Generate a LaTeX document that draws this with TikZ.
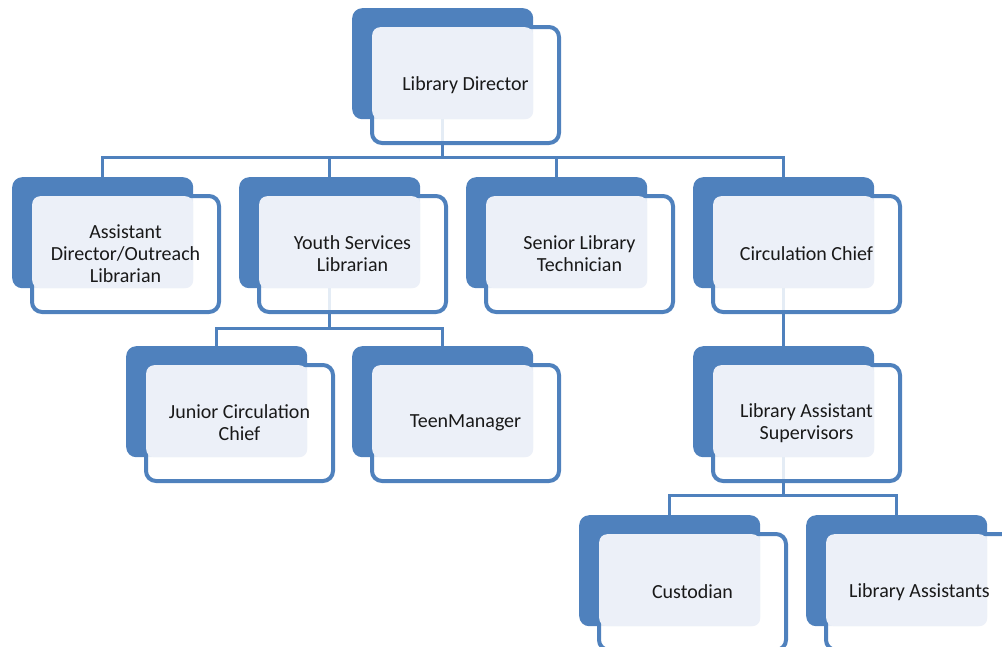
\documentclass[tikz,border=0pt]{standalone}
\usepackage{fontspec}
\setmainfont{Carlito}
\usepackage{xcolor}
\usepackage{tikz}
\usetikzlibrary{positioning,backgrounds}

\definecolor{orgblue}{HTML}{4F81BD}
\definecolor{orglight}{HTML}{ECF0F8}

\begin{document}
\begin{tikzpicture}[x=1pt, y=-1pt,
    back/.style={rectangle, fill=orgblue, rounded corners=10pt,
                 minimum width=181pt, minimum height=111pt,
                 anchor=north west, inner sep=0pt},
    frame/.style={rectangle, draw=orgblue, line width=4pt, fill=white, fill opacity=0.85,
                  rounded corners=10pt, minimum width=187pt, minimum height=116pt,
                  anchor=north west, inner sep=0pt},
    inbox/.style={rectangle, fill=orglight, rounded corners=8pt,
                  minimum width=161pt, minimum height=92pt,
                  anchor=south east, inner sep=0pt},
    lbl/.style={align=center, font=\fontsize{20}{22}\selectfont, text=black!90},
    conn/.style={draw=orgblue, line width=3.5pt}
  ]

  \useasboundingbox (0,0) rectangle (1002,646);
  \clip (0,0) rectangle (1002,646);

  % Top level
  \node[back] (dir) at (352,8) {};
  \node[frame] (dir-f) at (370,25) {};
  \node[inbox] (dir-i) at (dir.south east) {};
  \node[lbl] (dir-t) at (dir-f) {Library Director};

  % Second level
  \node[back] (asst) at (12,177) {};
  \node[frame] (asst-f) at (30,194) {};
  \node[inbox] (asst-i) at (asst.south east) {};
  \node[lbl] (asst-t) at (asst-f) {Assistant\\Director/Outreach\\Librarian};

  \node[back] (youth) at (239,177) {};
  \node[frame] (youth-f) at (257,194) {};
  \node[inbox] (youth-i) at (youth.south east) {};
  \node[lbl] (youth-t) at (youth-f) {Youth Services\\Librarian};

  \node[back] (senior) at (466,177) {};
  \node[frame] (senior-f) at (484,194) {};
  \node[inbox] (senior-i) at (senior.south east) {};
  \node[lbl] (senior-t) at (senior-f) {Senior Library\\Technician};

  \node[back] (circ) at (693,177) {};
  \node[frame] (circ-f) at (711,194) {};
  \node[inbox] (circ-i) at (circ.south east) {};
  \node[lbl] (circ-t) at (circ-f) {Circulation Chief};

  % Third level
  \node[back] (junior) at (126,346) {};
  \node[frame] (junior-f) at (144,363) {};
  \node[inbox] (junior-i) at (junior.south east) {};
  \node[lbl] (junior-t) at (junior-f) {Junior Circulation\\Chief};

  \node[back] (teen) at (352,346) {};
  \node[frame] (teen-f) at (370,363) {};
  \node[inbox] (teen-i) at (teen.south east) {};
  \node[lbl] (teen-t) at (teen-f) {TeenManager};

  \node[back] (sup) at (693,346) {};
  \node[frame] (sup-f) at (711,363) {};
  \node[inbox] (sup-i) at (sup.south east) {};
  \node[lbl] (sup-t) at (sup-f) {Library Assistant\\Supervisors};

  % Fourth level
  \node[back] (cust) at (579,515) {};
  \node[frame] (cust-f) at (597,532) {};
  \node[inbox] (cust-i) at (cust.south east) {};
  \node[lbl] (cust-t) at (cust-f) {Custodian};

  \node[back] (assts) at (806,515) {};
  \node[frame] (assts-f) at (824,532) {};
  \node[inbox] (assts-i) at (assts.south east) {};
  \node[lbl] (assts-t) at (assts-f) {Library Assistants};

  % Connectors
  \begin{scope}[on background layer]
    \draw[conn] (dir.south) -- ++(0,38) -| (asst.north);
    \draw[conn] (dir.south) -- ++(0,38) -| (youth.north);
    \draw[conn] (dir.south) -- ++(0,38) -| (senior.north);
    \draw[conn] (dir.south) -- ++(0,38) -| (circ.north);
    \draw[conn] (youth.south) -- ++(0,40) -| (junior.north);
    \draw[conn] (youth.south) -- ++(0,40) -| (teen.north);
    \draw[conn] (circ.south) -- (sup.north);
    \draw[conn] (sup.south) -- ++(0,38) -| (cust.north);
    \draw[conn] (sup.south) -- ++(0,38) -| (assts.north);
  \end{scope}

\end{tikzpicture}
\end{document}
